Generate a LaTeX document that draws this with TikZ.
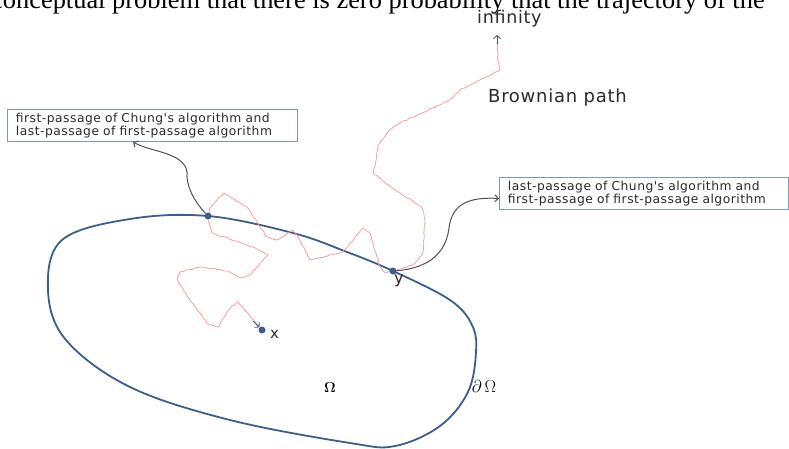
\documentclass[tikz,border=0pt]{standalone}
\usepackage{fontspec}
\setmainfont{Liberation Serif}
\newfontfamily\lblfont[LetterSpace=4]{DejaVu Sans}
\newfontfamily\plainlbl{DejaVu Sans}
\newcommand\boxtextfont{\lblfont\fontsize{12.3}{11.5}\selectfont}
\usetikzlibrary{arrows.meta,decorations.pathmorphing,calc}
\definecolor{bnd}{HTML}{3B5E8F}
\definecolor{bpath}{HTML}{F4A0A0}
\definecolor{boxline}{HTML}{8296B6}
\definecolor{conn}{HTML}{505050}
\definecolor{txt}{HTML}{2A2A2A}
\tikzset{
  dot/.style={circle, fill=bnd, inner sep=0pt, minimum size=7pt},
  infobox/.style={draw=boxline, line width=0.9pt, fill=white, align=left, text=txt,
     font=\boxtextfont, inner xsep=8.5pt, anchor=north west},
  connline/.style={draw=conn, line width=1pt, -{Straight Barb[length=3.5pt,width=7pt]}},
  lbl/.style={font=\plainlbl\fontsize{15}{17}\selectfont, inner sep=0pt, text=txt},
  biglbl/.style={font=\lblfont\fontsize{18}{20}\selectfont, inner sep=0pt, text=txt},
  brown/.style={draw=bpath, line width=0.8pt, line join=round,
     decorate, decoration={random steps, segment length=2.5pt, amplitude=0.5pt}},
  tipb/.style={draw=bnd, line width=0.9pt, -{Straight Barb[length=3pt,width=7pt]}}
}
\begin{document}
\begin{tikzpicture}[x=1pt,y=-1pt]
\useasboundingbox (0,0) rectangle (789,448);
\begin{scope}
\clip (0,0) rectangle (789,448);
\node[anchor=base west, inner sep=0pt, font=\fontsize{26.4}{29}\selectfont] (cap) at (-9,8.8)
  {conceptual problem that there is zero probability that the trajectory of the};
\end{scope}

% domain boundary
\draw[bnd, line width=1.8pt] plot[smooth cycle, tension=0.6] coordinates {
 (208,216) (293,233) (347,252) (393,271) (450,300) (472,325) (476,352)
 (468,392) (440,426) (395,446) (350,443) (230,420) (130,387) (66,340)
 (48,290) (62,240) (130,219)};

% brownian path
\coordinate (inf) at (497,35);
\draw[brown] (259,326) -- (250,316) -- (238,302) -- (230,308) -- (218,327)
 -- (208,324) -- (190,300) -- (177,280) -- (180,272) -- (200,267) -- (228,271)
 -- (240,278) -- (250,275) -- (268,255) -- (253,247) -- (212,233) -- (208,220)
 -- (210,208) -- (217,200) -- (224,193) -- (247,207) -- (267,237) -- (277,240)
 -- (293,230) -- (300,240) -- (310,260) -- (343,252) -- (363,228) -- (370,233)
 -- (380,267) -- (385,273) -- (397,270) -- (413,265) -- (423,253) -- (425,220)
 -- (422,207) -- (395,190) -- (373,173) -- (376,160) -- (378,145) -- (390,130)
 -- (400,123) -- (433,108) -- (450,100) -- (460,90) -- (500,70) -- (498,60) -- (497,42);
\draw[tipb] (497,44) -- (inf);

% points
\node[dot] (A) at (208,216) {};
\node[dot] (Y) at (393,271) {};
\node[dot] (X) at (262,330) {};
\draw[tipb] (253,321) -- (X);

% labels
\node[lbl, anchor=base west] (xl) at (270,338) {x};
\node[lbl, anchor=base west, font=\plainlbl\fontsize{16}{18}\selectfont] (yl) at (394,283) {y};
\node[biglbl, anchor=base west, font=\lblfont\fontsize{17.5}{20}\selectfont] (infl) at (477,23) {infinity};
\node[biglbl, anchor=base west] (bp) at (488,102) {Brownian path};
\node[inner sep=0pt, anchor=base, font=\fontsize{14.5}{17}\selectfont\boldmath] (om) at (330,392) {$\Omega$};
\node[inner sep=0pt, anchor=base, font=\fontsize{16}{18}\selectfont] (dom) at (484,392) {$\partial\,\Omega$};

% boxes
\node[infobox, minimum width=290pt, minimum height=32pt, text width=273pt] (B1) at (7,109)
 {\boxtextfont first-passage of Chung's algorithm and\\\boxtextfont last-passage of first-passage algorithm};
\node[infobox, minimum width=289pt, minimum height=32pt, text width=272pt] (B2) at (499,177)
 {\boxtextfont last-passage of Chung's algorithm and\\\boxtextfont first-passage of first-passage algorithm};

% connectors
\draw[connline] (A) .. controls (193,200) and (186,185) .. (187,172)
  .. controls (184,152) and (150,152) .. ([xshift=126pt]B1.south west);
\draw[connline] (Y) .. controls (430,268) and (446,252) .. (449,228)
  .. controls (452,203) and (470,197) .. ([yshift=-5pt]B2.west);
\end{tikzpicture}
\end{document}
